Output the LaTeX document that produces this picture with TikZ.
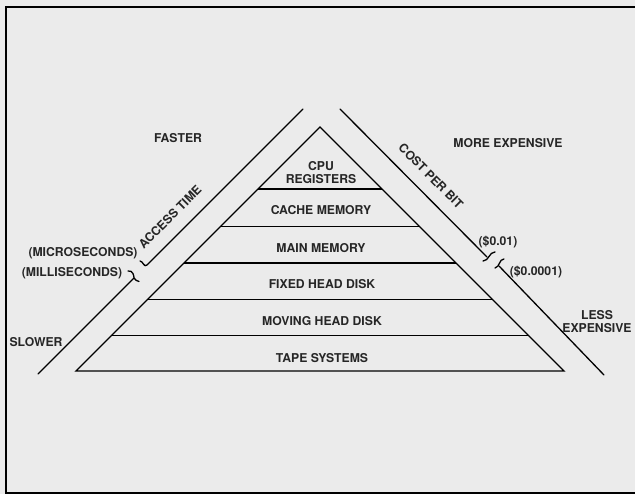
\documentclass[tikz,border=0pt]{standalone}
\usepackage{fontspec}
\setmainfont{TeX Gyre Heros}
\usepackage{tikz}
\usetikzlibrary{positioning}
\definecolor{paper}{gray}{0.92}
\tikzstyle{txt}=[font=\fontsize{12.2}{13.5}\selectfont\bfseries,inner sep=0pt,align=center,text=black!85]
\tikzstyle{edgeline}=[black,line width=1.3pt]
\tikzstyle{outline}=[black,line width=2pt]
\tikzstyle{brk}=[black,line width=1.3pt,line cap=round]

\begin{document}
\begin{tikzpicture}[x=1pt,y=-1pt]

	\useasboundingbox[fill=paper] (0,0) rectangle (635,494);
	\draw[outline] (635,7) -- (6,7) -- (6,493) -- (635,493);

	% pyramid
	\coordinate (apex) at (320,127);
	\coordinate (bl) at (76,371);
	\coordinate (br) at (564,371);
	\draw[edgeline,line join=miter] (bl) -- (apex) -- (br) -- cycle;
	\foreach \y in {189,226.5,263,299.5,335.5}
		\draw[edgeline] ({447-\y},\y) -- ({\y+193},\y);

	\node[txt] (cpu) at (321,172.5) {CPU\\REGISTERS};
	\node[txt] (cache) at (321,210) {CACHE MEMORY};
	\node[txt] (main) at (321,248) {MAIN MEMORY};
	\node[txt] (fixed) at (322,284.5) {FIXED HEAD DISK};
	\node[txt] (moving) at (322,321) {MOVING HEAD DISK};
	\node[txt] (tape) at (322,358) {TAPE SYSTEMS};

	% access time scale
	\coordinate (lt) at (303,109);
	\coordinate (lu) at (147,265);
	\coordinate (ll) at (134,278);
	\coordinate (lb) at (38,374);
	\draw[brk] (lt) -- (lu) .. controls (144,268) and (143,261) .. (140,261);
	\draw[brk] (lb) -- (ll);
	\draw[brk] (128,271) .. controls (133,270) and (134,276) .. (ll)
		.. controls (135,280) and (137,281) .. (139,281.5);

	\node[txt] (faster) at (178,138) {FASTER};
	\node[txt,rotate=45] (access) at (170,217) {ACCESS TIME};
	\node[txt] (micro) at (83,253) {(MICROSECONDS)};
	\node[txt] (milli) at (72,273) {(MILLISECONDS)};
	\node[txt] (slower) at (36,342) {SLOWER};

	% cost per bit scale
	\coordinate (rt) at (340,109);
	\coordinate (ru) at (487,257);
	\coordinate (rl) at (499,266);
	\coordinate (rb) at (604,375);
	\draw[brk] (rt) -- (ru);
	\draw[brk] (483,261) .. controls (489,261) and (489,252) .. (495,252);
	\draw[brk] (rb) -- (rl);
	\draw[brk] (504,259) .. controls (499,259) and (500,267) .. (495,268);

	\node[txt,rotate=-45] (cost) at (431,176) {COST PER BIT};
	\node[txt] (more) at (508,143) {MORE EXPENSIVE};
	\node[txt] (high) at (498,242) {(\$0.01)};
	\node[txt] (low) at (536,272) {(\$0.0001)};
	\node[txt] (less) at (597,321.5) {LESS\\EXPENSIVE};

\end{tikzpicture}
\end{document}
